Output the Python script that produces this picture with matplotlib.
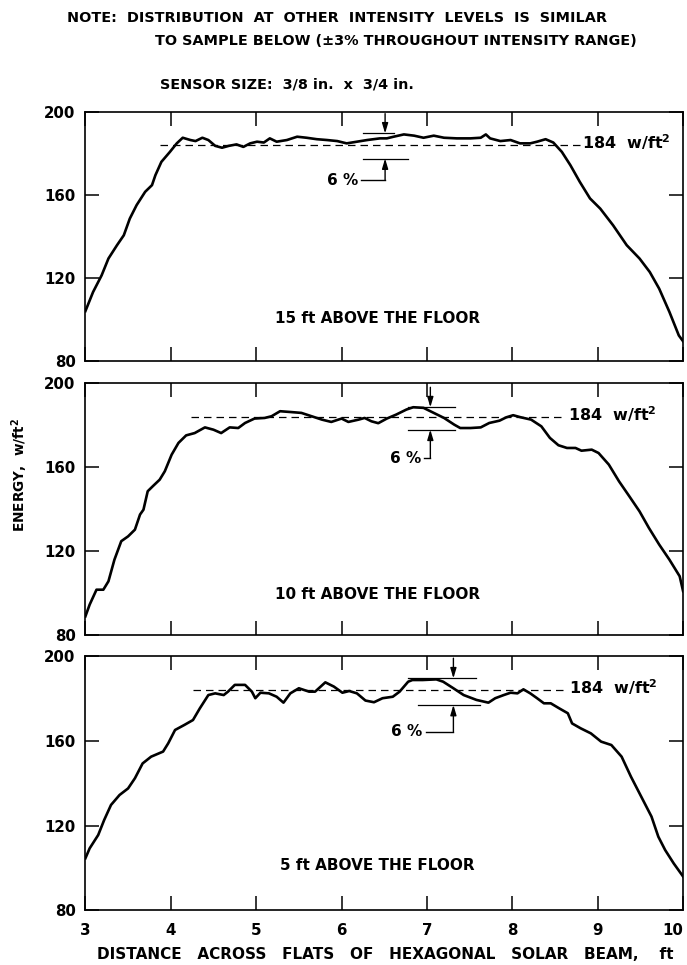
import matplotlib
matplotlib.use('Agg')
import matplotlib.pyplot as plt

plt.rcParams['font.family'] = ['DejaVu Sans']
plt.rcParams['font.weight'] = 'bold'
plt.rcParams['mathtext.default'] = 'bf'

# ---------------- data ----------------
x15 = [3.00, 3.09, 3.19, 3.27, 3.37, 3.45, 3.52, 3.60, 3.70, 3.78, 3.82, 3.89, 3.99, 4.07,
       4.14, 4.23, 4.29, 4.37, 4.44, 4.52, 4.60, 4.68, 4.77, 4.85, 4.93, 5.01, 5.09, 5.16,
       5.24, 5.36, 5.48, 5.59, 5.71, 5.83, 5.95, 6.06, 6.18, 6.30, 6.45, 6.53, 6.61, 6.73,
       6.85, 6.96, 7.08, 7.20, 7.35, 7.51, 7.63, 7.69, 7.74, 7.86, 7.98, 8.09, 8.21, 8.29,
       8.39, 8.48, 8.58, 8.68, 8.79, 8.91, 9.03, 9.18, 9.34, 9.49, 9.61, 9.72, 9.84, 9.95, 10.0]
e15 = [104, 113.2, 121.2, 129.3, 135.7, 140.5, 148.5, 155.0, 161.4, 164.6, 169.4, 175.8, 180.6, 184.7,
       187.4, 186.3, 185.8, 187.4, 186.3, 183.5, 182.6, 183.5, 184.2, 183.0, 184.7, 185.5, 185.1, 187.1,
       185.5, 186.3, 187.9, 187.4, 186.7, 186.3, 185.8, 184.7, 185.5, 186.3, 187.1, 187.1, 187.9, 189.0,
       188.4, 187.4, 188.4, 187.4, 187.1, 187.1, 187.4, 189.0, 187.1, 185.8, 186.3, 184.7, 184.7, 185.5,
       186.7, 185.1, 180.6, 174.2, 166.2, 158.2, 153.3, 145.3, 135.7, 129.3, 122.8, 114.8, 103.6, 92.3, 89.5]

x10 = [3.00, 3.05, 3.13, 3.21, 3.27, 3.34, 3.42, 3.50, 3.58, 3.64, 3.68, 3.73, 3.79, 3.87,
       3.93, 4.01, 4.09, 4.18, 4.28, 4.40, 4.50, 4.59, 4.69, 4.79, 4.87, 4.98, 5.10, 5.18,
       5.28, 5.41, 5.53, 5.65, 5.77, 5.88, 6.00, 6.08, 6.20, 6.27, 6.35, 6.43, 6.53, 6.64,
       6.76, 6.84, 6.96, 7.08, 7.20, 7.32, 7.39, 7.51, 7.63, 7.73, 7.85, 7.93, 8.01, 8.10,
       8.22, 8.34, 8.44, 8.54, 8.64, 8.74, 8.81, 8.93, 9.01, 9.13, 9.25, 9.37, 9.49, 9.60,
       9.72, 9.84, 9.96, 10.0]
e10 = [89.0, 94.6, 101.7, 101.7, 105.7, 116.0, 124.8, 127.1, 130.3, 137.5, 139.8, 148.6, 151.0, 154.1,
       158.1, 166.0, 171.6, 175.2, 176.3, 179.0, 177.9, 176.3, 179.0, 178.7, 181.1, 183.2, 183.5, 184.3,
       186.7, 186.3, 185.9, 184.3, 182.7, 181.6, 183.2, 181.6, 182.7, 183.5, 181.9, 181.0, 183.2, 185.1,
       187.5, 188.6, 188.3, 185.9, 183.5, 180.3, 178.7, 178.7, 179.0, 181.1, 182.2, 183.8, 184.8, 183.8,
       182.7, 179.5, 174.0, 170.5, 169.2, 169.2, 167.9, 168.4, 166.8, 161.3, 153.3, 146.2, 139.0, 131.1,
       123.2, 116.0, 108.1, 101.0]

x5 = [3.00, 3.05, 3.15, 3.22, 3.30, 3.40, 3.50, 3.58, 3.67, 3.77, 3.91, 3.97, 4.05, 4.16,
      4.26, 4.34, 4.44, 4.52, 4.62, 4.67, 4.75, 4.87, 4.95, 4.99, 5.05, 5.15, 5.24, 5.32,
      5.40, 5.50, 5.62, 5.69, 5.81, 5.91, 6.01, 6.09, 6.18, 6.28, 6.38, 6.48, 6.60, 6.68,
      6.78, 6.83, 6.95, 7.11, 7.19, 7.31, 7.43, 7.58, 7.72, 7.80, 7.90, 7.98, 8.06, 8.13,
      8.21, 8.29, 8.37, 8.45, 8.55, 8.65, 8.70, 8.80, 8.92, 9.04, 9.16, 9.28, 9.39, 9.51,
      9.63, 9.71, 9.79, 9.89, 10.0]
e5 = [104.6, 109.3, 115.6, 122.7, 129.8, 134.5, 137.6, 142.4, 149.4, 152.6, 155.0, 158.9, 165.2, 167.6,
      169.9, 175.4, 181.7, 182.5, 181.7, 183.3, 186.5, 186.5, 183.3, 180.2, 182.8, 182.5, 180.9, 178.1,
      182.5, 184.9, 183.3, 183.3, 187.7, 185.7, 182.8, 183.6, 182.5, 179.1, 178.3, 180.2, 180.9, 183.3,
      188.0, 188.8, 188.8, 189.1, 188.0, 184.9, 181.7, 179.4, 178.1, 180.2, 181.7, 182.8, 182.5, 184.4,
      182.5, 180.2, 177.8, 177.8, 175.4, 173.1, 168.3, 166.0, 163.6, 159.7, 158.1, 152.6, 143.1, 133.7,
      124.3, 114.8, 108.5, 102.2, 96.0]

panel_titles = ["15 ft ABOVE THE FLOOR", "10 ft ABOVE THE FLOOR", "5 ft ABOVE THE FLOOR"]
ref_level = 184
x_ticks = [3, 4, 5, 6, 7, 8, 9, 10]
x_labels = ["3", "4", "5", "6", "7", "8", "9", "10"]
y_ticks = [80, 120, 160, 200]

# ---------------- layout / annotation geometry ----------------
rects = [[0.1243, 0.6259, 0.8700, 0.2585],
         [0.1243, 0.3417, 0.8700, 0.2611],
         [0.1243, 0.0566, 0.8700, 0.2633]]
ann = [
    dict(d0=3.875, d1=8.79, lx=8.82, up=(6.25, 6.62, 189.5), lo=(6.25, 6.78, 177.4), ax=6.51, tx=6.19, stem=167.0),
    dict(d0=4.24, d1=8.62, lx=8.65, up=(6.78, 7.33, 188.6), lo=(6.78, 7.33, 177.9), ax=7.04, tx=6.93, stem=164.4),
    dict(d0=4.26, d1=8.61, lx=8.66, up=(6.78, 7.58, 189.6), lo=(6.89, 7.62, 177.0), ax=7.31, tx=6.95, stem=164.4),
]
title_y = [100.5, 99.5, 101.0]

fig = plt.figure(figsize=(6.87, 9.65), dpi=100)
series = [(x15, e15), (x10, e10), (x5, e5)]

for i, ((xs, es), rect, a, title) in enumerate(zip(series, rects, ann, panel_titles)):
    ax = fig.add_axes(rect)
    ax.plot(xs, es, color='black', lw=1.9, solid_joinstyle='round')
    ax.set_xlim(3, 10)
    ax.set_ylim(80, 200)
    ax.set_xticks(x_ticks, labels=x_labels)
    ax.set_yticks(y_ticks)
    for s in ax.spines.values():
        s.set_linewidth(1.2)
    ax.tick_params(direction='in', top=True, right=True, length=10, width=1.1,
                   labelsize=10.8, pad=7)
    if i < 2:
        ax.tick_params(labelbottom=False)
    else:
        ax.tick_params(axis='x', pad=9)
        ax.get_xticklabels()[-1].set_horizontalalignment('right')
    # reference level dashed line
    ax.plot([a['d0'], a['d1']], [ref_level, ref_level], color='black', lw=0.9,
            dashes=(6, 4))
    ax.text(a['lx'], 185.5, "184  w/ft$^{2}$", fontsize=11.5, va='center', ha='left')
    # 6% markers
    ux0, ux1, uy = a['up']
    lx0, lx1, ly = a['lo']
    ax.plot([ux0, ux1], [uy, uy], color='black', lw=0.9)
    ax.plot([lx0, lx1], [ly, ly], color='black', lw=0.9)
    ax.annotate('', xy=(a['ax'], uy), xytext=(a['ax'], uy + 9.5),
                arrowprops=dict(arrowstyle='-|>,head_length=0.6,head_width=0.18',
                                color='black', lw=1.0, shrinkA=0, shrinkB=0))
    ax.annotate('', xy=(a['ax'], ly), xytext=(a['ax'], a['stem']),
                arrowprops=dict(arrowstyle='-|>,head_length=0.6,head_width=0.18',
                                color='black', lw=1.0, shrinkA=0, shrinkB=0))
    ax.plot([a['tx'] + 0.04, a['ax']], [a['stem'], a['stem']], color='black', lw=1.0)
    ax.text(a['tx'], a['stem'], "6 %", fontsize=11, ha='right', va='center')
    ax.text(6.42, title_y[i], title, fontsize=11, ha='center', va='center')

fig.text(0.0975, 0.981, "NOTE:  DISTRIBUTION  AT  OTHER  INTENSITY  LEVELS  IS  SIMILAR",
         fontsize=10.4, ha='left', va='center')
fig.text(0.2256, 0.9575, "TO SAMPLE BELOW (±3% THROUGHOUT INTENSITY RANGE)",
         fontsize=10.4, ha='left', va='center')
fig.text(0.233, 0.912, "SENSOR SIZE:  3/8 in.  x  3/4 in.", fontsize=10.4,
         ha='left', va='center')
fig.text(0.029, 0.508, "ENERGY,  w/ft$^{2}$", fontsize=9.8, rotation=90,
         ha='center', va='center')
fig.text(0.561, 0.0104, "DISTANCE   ACROSS   FLATS   OF   HEXAGONAL   SOLAR   BEAM,    ft",
         fontsize=11, ha='center', va='center')

fig.savefig('out.png', dpi=100)
